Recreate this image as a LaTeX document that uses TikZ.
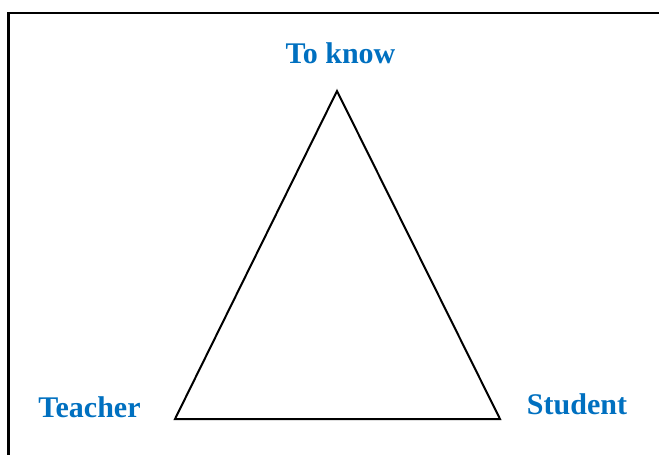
\documentclass[tikz,border=0pt]{standalone}
\usepackage{fontspec}
\setmainfont{Liberation Serif}
\definecolor{lblblue}{RGB}{0,112,192}
\begin{document}
\begin{tikzpicture}[x=1pt,y=-1pt,
  lbl/.style={text=lblblue,font=\fontsize{30}{33}\selectfont\bfseries,inner sep=0pt,anchor=base},
  edge/.style={draw=black,line width=2pt,line join=miter}]
\useasboundingbox (0,0) rectangle (659,455);
\draw[line width=2.5pt] (8.5,456) -- (8.5,13) -- (660,13);
\coordinate (top) at (337,91);
\coordinate (bl) at (175,419);
\coordinate (br) at (500,419);
\draw[edge] (top) -- (bl) -- (br) -- cycle;
\node[lbl] (know) at (340.5,63) {To know};
\node[lbl] (teacher) at (89.5,417) {Teacher};
\node[lbl] (student) at (577,414) {Student};
\end{tikzpicture}
\end{document}
